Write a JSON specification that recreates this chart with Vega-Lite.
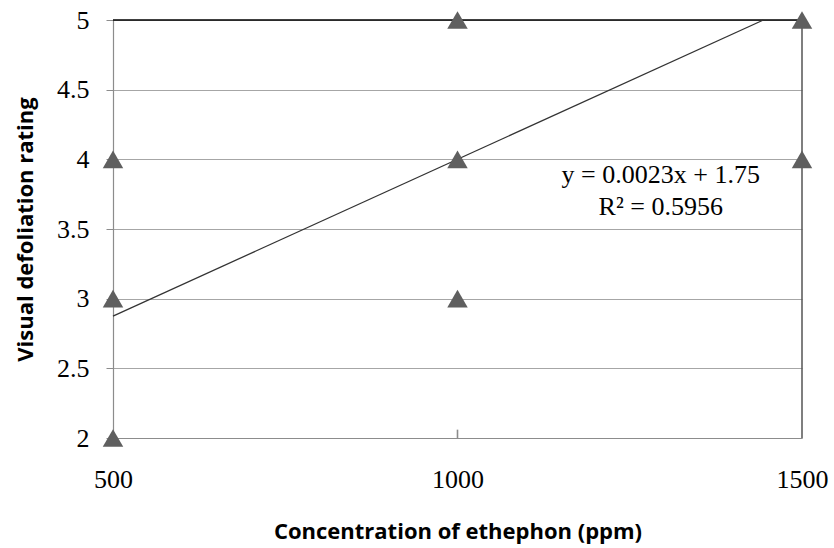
{
  "$schema": "https://vega.github.io/schema/vega-lite/v6.json",
  "width": 689,
  "height": 418,
  "autosize": {"type": "none"},
  "padding": {"left": 113, "top": 20, "right": 32, "bottom": 110},
  "background": "white",
  "config": {"view": {"stroke": null}},
  "datasets": {
    "points": [
      {"conc": 500, "rating": 2},
      {"conc": 500, "rating": 3},
      {"conc": 500, "rating": 4},
      {"conc": 1000, "rating": 3},
      {"conc": 1000, "rating": 4},
      {"conc": 1000, "rating": 5},
      {"conc": 1500, "rating": 4},
      {"conc": 1500, "rating": 5}
    ],
    "trend": [
      {"conc": 500, "rating": 2.875},
      {"conc": 1444, "rating": 5}
    ],
    "notes": [
      {"conc": 1295, "rating": 3.89, "label": "y = 0.0023x + 1.75"},
      {"conc": 1295, "rating": 3.66, "label": "R² = 0.5956"}
    ],
    "frame": [
      {"conc": 500, "conc2": 1500, "rating": 5, "rating2": 5, "kind": "top"},
      {"conc": 1500, "conc2": 1500, "rating": 2, "rating2": 5, "kind": "right"},
      {"conc": 1000, "conc2": 1000, "rating": 2, "rating2": 2.06, "kind": "tick"}
    ]
  },
  "layer": [
    {
      "data": {"name": "points"},
      "mark": {"type": "point", "opacity": 0},
      "encoding": {
        "x": {
          "field": "conc", "type": "quantitative",
          "scale": {"domain": [500, 1500], "nice": false, "zero": false},
          "axis": {
            "values": [500, 1000, 1500],
            "format": "d",
            "labelFlush": false,
            "title": "Concentration of ethephon (ppm)",
            "titleFont": "Open Sans", "titleFontSize": 22, "titleFontWeight": "bold", "titleColor": "#000",
            "titlePadding": 29,
            "labelFont": "Liberation Serif", "labelFontSize": 26, "labelColor": "#000",
            "labelPadding": 28, "ticks": false, "grid": false,
            "domainColor": "#8c8c8c", "domainWidth": 1.2
          }
        },
        "y": {
          "field": "rating", "type": "quantitative",
          "scale": {"domain": [2, 5], "nice": false, "zero": false},
          "axis": {
            "values": [2, 2.5, 3, 3.5, 4, 4.5, 5],
            "format": "~g",
            "labelFlush": false,
            "title": "Visual defoliation rating",
            "titleFont": "Open Sans", "titleFontSize": 22, "titleFontWeight": "bold", "titleColor": "#000",
            "titlePadding": 19,
            "labelFont": "Liberation Serif", "labelFontSize": 26, "labelColor": "#000",
            "labelPadding": 17, "tickSize": 7, "tickColor": "#8c8c8c",
            "grid": true, "gridColor": "#a6a6a6", "gridWidth": 1.2,
            "domainColor": "#8c8c8c", "domainWidth": 1.2
          }
        }
      }
    },
    {
      "data": {"name": "frame"},
      "mark": {"type": "rule", "clip": false},
      "encoding": {
        "x": {"field": "conc", "type": "quantitative"},
        "x2": {"field": "conc2"},
        "y": {"field": "rating", "type": "quantitative"},
        "y2": {"field": "rating2"},
        "color": {
          "field": "kind", "type": "nominal",
          "scale": {"domain": ["top", "right", "tick"], "range": ["#000000", "#555555", "#8c8c8c"]},
          "legend": null
        },
        "strokeWidth": {
          "field": "kind", "type": "nominal",
          "scale": {"domain": ["top", "right", "tick"], "range": [1.4, 1.6, 1.2]},
          "legend": null
        }
      }
    },
    {
      "data": {"name": "trend"},
      "mark": {"type": "line", "color": "#333333", "strokeWidth": 1.3, "clip": false},
      "encoding": {
        "x": {"field": "conc", "type": "quantitative"},
        "y": {"field": "rating", "type": "quantitative"}
      }
    },
    {
      "data": {"name": "points"},
      "mark": {"type": "point", "shape": "triangle-up", "filled": true, "color": "#5f5f5f", "opacity": 1, "size": 420, "clip": false},
      "encoding": {
        "x": {"field": "conc", "type": "quantitative"},
        "y": {"field": "rating", "type": "quantitative"}
      }
    },
    {
      "data": {"name": "notes"},
      "mark": {"type": "text", "font": "Liberation Serif", "fontSize": 26, "color": "#000", "align": "center", "baseline": "middle"},
      "encoding": {
        "x": {"field": "conc", "type": "quantitative"},
        "y": {"field": "rating", "type": "quantitative"},
        "text": {"field": "label"}
      }
    }
  ]
}
